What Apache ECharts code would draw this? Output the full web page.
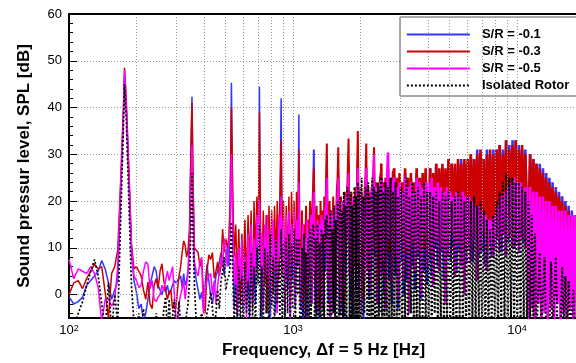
<!DOCTYPE html>
<html><head><meta charset="utf-8">
<script src="https://cdn.jsdelivr.net/npm/echarts@6/dist/echarts.min.js"></script>
<style>html,body{margin:0;padding:0;background:#fff}#c{width:576px;height:363px}</style>
</head><body><div id="c"></div>
<script>
// ---- frequency grid (Hz) ----
const freqA=[100,105,110,115,120,125,130,135,140,145,
150,155,160,165,170,175,177,180,185,190,
195,200,205,210,215,220,225,230,235,240,
245,250,255,260,265,270,275,280,285,290,
295,300];
const freqB=[305,310,315,320,325,330,335,340,345,350,
354,358,363,370,377,384,391,398,405,413,
421,429,437,445,453,461,469,477,485,493,
501,509,517,524,531,538,546,555,564,573,
582,591,600,610,620,630,640,650,660,670,
680,690,700,708,716,726,737,748,759,770,
781,792,803,815,827,839,851,863,874,885,
895,907,920,933,946,959,972,985,998,1011,
1024,1037,1050,1062,1072];
const freqC=[1084,1096,1108,1120,1132,1144,1156,1168,1180,1192,
1204,1216,1228,1239,1250,1262,1275,1288,1301,1314,
1327,1340,1353,1366,1379,1392,1404,1416,1428,1442,
1456,1470,1484,1498,1512,1526,1540,1554,1568,1581,
1593,1606,1622,1638,1654,1670,1686,1702,1718,1734,
1750,1770,1788,1806,1824,1842,1860,1878,1896,1914,
1932,1947,1965,1985,2005,2025,2045,2065,2085,2105,
2124,2145,2168,2191,2214,2237,2260,2282,2301,2324,
2348,2372,2396,2420,2444,2466,2478,2500,2530,2560,
2590,2625,2655,2690,2725,2760,2795,2832,2870,2910,
2950,2990,3030,3075,3120,3165,3210,3260,3310,3360,
3410,3460,3510,3565,3620,3675,3730,3790,3850,3910,
3970,4030,4095,4160,4225,4290,4360,4430,4500,4570,
4645,4720,4795,4870,4950,5030,5110,5195,5280,5365,
5455,5545,5635,5730,5825,5920,6020,6120,6220,6325,
6430,6535,6645,6755,6870,6985,7100,7220,7340,7460,
7585,7710,7840,7970,8100,8235,8370,8510,8650,8795,
8940,9090,9240,9395,9550,9710,9870,10035,10200,10370,
10540,10715,10895,11075,11260,11445,11635,11830,12025,12225,
12430,12635,12845,13060,13275,13495,13720,13950,14180,14415,
14655,14900,15145,15395,15650,15910,16175,16445,16720,17000,
17280,17570,17860,18160,18460];

// ---- S/R = -0.1 (blue) ----
const blueA=[-0.5,-2,-1.5,-0.5,2,3,4,5,7.3,5.5,
2.5,-1,1,3,21,38,46.5,40,25,9,
3,0.6,-3,-2,-6,-4,-1,2,4,6,
5,2,1,0,1.5,0.5,2,0,1,2,
3,2.5];
const blueB=[2.5,3.5,4,1.5,4.5,2,3,5,12,30,
42.3,22,6,3,1,-1,0.5,-3,2,6.5,
3,0,-2,1,4,5,7,9,7,4,
8,10,6,17,45.3,18,-3,6,-6,8,
1,5,-4,9,3,10,-5,12,2,8,
-2,14,5,44.5,10,-5,9,3,12,-2,
11,-6,13,2,10,-4,13,4,15,42,
6,12,-5,13,1,11,-6,14,3,10,
-3,15,6,38.5,4];
const blueC=[-3,12,-6,10,2,14,-5,11,4,13,
-2,12,16,31,6,-4,13,1,12,-7,
14,3,13,-3,15,5,17,28,8,-2,
15,-6,13,4,16,-3,14,6,17,19,
26,9,-4,16,3,14,-6,17,5,15,
18,28,7,-1,17,-5,15,6,18,1,
20,29,10,-2,18,4,16,-6,17,19,
27,6,18,-1,17,5,19,21,26,8,
19,1,18,-3,20,22,24,5,20,0,
21,8,23,3,21,-2,22,24,4,24,
-3,25,7,23,0,26,3,24,-4,25,
6,23,1,26,8,24,-1,25,5,26,
2,8,27,4,25,10,28,6,26,9,
27,3,26,11,29,7,28,10,27,5,
28,9,29,11,28,7,28,10,30,7,
29,12,31,8,30,9,29,6,31,11,
30,8,31,10,31,12,32,9,31,13,
33,11,32,14,33,10,33,12,32,13,
31,11,31,14,11,30,9,29,12,28,
8,28,10,27,7,26,9,25,6,24,
8,23,5,22,7,21,4,20,6,19,
3,18,5,17,4];

// ---- S/R = -0.3 (red) ----
const redA=[0,2.5,3,1.3,3.5,5,6.5,5.5,6,0.5,
-5,4.5,6,9.5,24,40,48.5,42,27,11,
5.5,6,5,4,1,-1,2.7,-2,-3,2,
3.4,1.3,5,6.6,3,1,-1,0.5,1,-3,
-2,-3];
const redB=[1,4,6,9,11.5,10.5,8,9.5,14,30,
41,24,10,9.5,9,6,7.5,1,-4,5,
8.5,7.5,9,3.5,5,7,4,6,14,9,
12,10,12,20,40,22,8,15,3,14,
-2,13,5,16,1,17,6,18,-3,20,
8,21,12,39,14,4,18,2,17,-4,
19,5,18,0,19,7,20,3,21,33,
10,20,2,19,6,21,-1,22,8,20,
4,22,9,31,12];
const redC=[4,18,-2,15,7,19,0,16,9,20,
3,17,22,27,12,2,19,6,17,-3,
20,8,18,1,21,10,24,32.3,14,4,
20,-1,18,9,21,3,19,11,22,25,
31.5,15,2,21,8,19,-2,22,10,20,
24,33.4,13,5,22,0,20,11,23,6,
26,35,16,4,23,9,21,-1,22,25,
32.3,12,23,5,22,10,24,26,31.5,14,
24,7,23,2,25,26,28,11,24,6,
25,13,27,9,25,4,26,27,10,25,
3,26,12,24,6,27,9,25,2,26,
11,24,7,27,13,25,5,26,10,27,
8,14,27,11,26,16,28,12,27,15,
28,10,27,17,29,13,28,16,28,12,
29,15,28,17,29,14,29,16,30,13,
29,17,30,14,31,15,29,12,30,16,
31,13,30,15,31,17,32,15,30,18,
33,16,31,19,32,15,33,17,31,18,
32,16,30,19,17,30,15,29,16,28,
14,27,15,26,13,25,14,24,12,23,
13,22,12,21,11,20,10,19,9,18,
10,17,9,16,15];

// ---- S/R = -0.5 (magenta) ----
const magA=[7.5,3.4,5.5,5,4.5,6,4.5,1.5,-6,-1,
-1,-2.5,-1,6,23,39,48,41,26,10,
4,3,1.5,2,5,7,6.5,1.3,3,-1,
-1.5,-0.5,0,2,1,3,5,3,4.5,6,
6,-5];
const magB=[-6,-2,0,1.3,3,-1,2,5,10,22,
32,18,7,5,4,7,8,-4,1,3,
4,4.5,0,3,-2,2,5,8,6,12,
9,6,11,14,30,15,2,9,-4,10,
3,12,-3,8,-5,13,2,15,-2,12,
4,17,9,20.5,5,13,-3,15,4,17,
1,14,-2,16,5,12,-4,17,8,21,
4,16,-3,17,3,18,-5,15,6,18,
-2,16,7,24,6];
const magC=[10,-3,15,4,12,-5,16,2,13,8,
17,-2,18,22,5,14,-4,16,1,15,
7,17,-3,16,9,18,19,25,3,17,
8,-5,18,2,17,10,19,-1,20,21,
25,6,18,-3,20,9,17,1,21,11,
22,26,4,20,10,-2,21,6,19,12,
23,27,8,21,-4,22,11,20,3,24,
27,5,22,12,1,23,9,25,30,10,
23,-2,22,13,24,4,25,21,7,23,
-3,24,30.4,12,23,2,24,25,8,23,
-1,24,14,22,3,25,10,23,-4,24,
12,22,5,25,9,24,0,23,13,24,
6,24,9,25,2,23,12,24,5,23,
10,22,-2,23,8,22,13,21,4,22,
11,21,6,22,0,21,10,21,7,20,
12,19,3,19,9,18,14,17,5,16,
11,16,8,17,12,19,9,21,13,22,
8,23,12,24,10,25,11,24,9,24,
12,23,10,23,-6,23,-3,22,-7,22,
-2,21,-6,21,-4,20,-7,20,-3,19,
-6,19,-2,18,-7,18,-4,18,-6,17,
-3,17,-7,17,-5];

// ---- Isolated Rotor (black dotted) ----
const isoA=[-8,-7,-4,-1.5,2,5,7.5,4,-2,-8,
2.5,-8,0,-6,16,36,45,38,20,2,
-6,-8,-4,-8,-3,-8,-8,-6,-8,-8,
-4,-8,-8,-8,-3,-0.5,-8,-1,-8,-8,
-1,-8];
const isoB=[-8,-1.5,-7,-8,-6,-8,-4,-2,3,14,
26,12,2,-6,-8,-8,-4,-6,-8,-4,
-2,0.5,-3,-7,-4,1,-3,3,5,8,
1,3,4,6,15.5,5,-6,2,-8,6,
-7,4,-8,7,-4,3,-8,9,-5,6,
-7,10,2,14.7,-6,6,-7,10,-4,9,
-8,13,-3,8,-8,12,-2,7,-5,14,
-6,11,-8,12,-4,13,-7,11,-3,14,
-8,12,0,12,-5];
const isoC=[-8,10,-6,13,-8,9,-5,12,-8,14,
-7,11,15,14,-7,12,-8,15,-5,11,
-8,14,-6,13,-8,16,12,17,-8,15,
-6,18,-8,14,-4,19,-8,16,-6,20,
17,-8,21,-5,18,-8,22,-6,19,-8,
23,20,-7,22,-8,19,-5,23,-8,21,
-6,24,-8,22,-6,25,-8,21,-4,23,
22,-8,24,-6,21,-8,25,-5,23,-8,
22,-7,24,-8,23,-4,25,-8,22,-6,
24,-8,23,-5,25,-8,22,-6,24,-8,
21,-5,23,-8,22,-6,25,-8,21,-4,
24,-8,22,-7,23,-8,21,-5,24,-8,
22,-6,22,-8,21,-4,22,-8,20,-6,
22,-8,21,-5,22,-8,20,-7,21,-8,
22,-5,21,-8,20,-6,21,-8,20,-6,
21,-8,19,-5,20,-8,18,-7,16,-8,
14,-6,17,-8,20,-8,22,-6,24,-7,
26,-8,25,-5,25,-8,24,-6,24,-8,
23,-7,22,-8,20,-8,17,-6,13,-8,
-8,9,-8,-8,8,-8,-8,-8,7,-8,
-8,8,-8,-8,-8,6,-8,4,-8,3,
-8,-8,1,-8,-8];

// ---- axis ticks / labels ----
const xTickValues=[100,1000,10000];
const xTickExps=['2','3','4'];
const xGridFreqs=[200,300,400,500,600,700,800,900,1000,2000,3000,4000,5000,6000,7000,8000,9000,10000];
const seriesNames=['S/R = -0.1','S/R = -0.3','S/R = -0.5','Isolated Rotor'];

const freq=freqA.concat(freqB,freqC);
// the spectrum gets denser with frequency: heavier strokes in the denser parts
const CUT1=freqA.length+freqB.length-1;                 // 1072 Hz
const CUT2=freqA.length+freqB.length+freqC.indexOf(2478); // 2478 Hz
function pairs(vals,from,to){const n=Math.min(freq.length,vals.length,to);const o=[];for(let i=from;i<n;i++)o.push([freq[i],vals[i]]);return o;}

const FONT='Liberation Sans, Arial, sans-serif';
const chart=echarts.init(document.getElementById('c'),null,{renderer:'canvas',width:576,height:363});
const XMIN=100, XMAX=18720;
function lineSeries(name,vals,color,width,type,from,to){
  return {name:name,type:'line',data:pairs(vals,from,to),symbol:'none',showSymbol:false,clip:true,
    lineStyle:{color:color,width:width,type:type||'solid',join:'bevel'},itemStyle:{color:color},
    emphasis:{disabled:true},animation:false,z:3};
}
function parts(name,vals,color,w,type){
  return [lineSeries(name,vals,color,w[0],type,0,CUT1+1),
          lineSeries(name,vals,color,w[1],type,CUT1,CUT2+1),
          lineSeries(name,vals,color,w[2],type,CUT2,1e9)];
}
chart.setOption({
  animation:false,
  textStyle:{fontFamily:FONT},
  grid:{left:69,right:-2,top:14,bottom:45,containLabel:false,outerBoundsMode:'none'},
  legend:{data:seriesNames,orient:'vertical',left:400,top:17,itemWidth:63,itemHeight:13,itemGap:4,
    padding:[11,40,4,6],backgroundColor:'#fff',borderColor:'#555',borderWidth:1,selectedMode:false,
    itemStyle:{opacity:0,borderWidth:0},lineStyle:{width:1.8},
    textStyle:{fontSize:13,fontWeight:'bold',color:'#000',fontFamily:FONT,padding:[0,0,0,7]}},
  xAxis:[{type:'log',logBase:10,min:XMIN,max:XMAX,
    axisLine:{show:true,onZero:false,lineStyle:{color:'#000',width:2}},
    axisTick:{show:true,inside:true,length:5,lineStyle:{color:'#000'}},
    splitLine:{show:false},
    axisLabel:{color:'#000',fontSize:13,margin:6,showMaxLabel:false,
      formatter:function(v){const e=Math.round(Math.log10(v));const i=xTickValues.indexOf(Math.pow(10,e));
        if(i<0||Math.abs(Math.log10(v)-e)>1e-6)return '';return '10{s|'+xTickExps[i]+'}';},
      rich:{s:{fontSize:9,verticalAlign:'top',color:'#000',fontFamily:FONT}}},
    name:'Frequency, \u0394f = 5 Hz [Hz]',nameLocation:'middle',nameGap:24,
    nameTextStyle:{fontSize:17,fontWeight:'bold',color:'#000',fontFamily:FONT}},
   {type:'log',logBase:10,min:XMIN,max:XMAX,position:'top',z:5,
    axisLine:{show:true,onZero:false,lineStyle:{color:'#000',width:2}},axisTick:{show:false},axisLabel:{show:false},splitLine:{show:false}}],
  yAxis:{type:'value',min:-5,max:60,splitNumber:6,
    axisLine:{show:true,onZero:false,lineStyle:{color:'#000',width:2}},
    axisTick:{show:true,inside:true,length:8,lineStyle:{color:'#000'}},
    minorTick:{show:true,splitNumber:5,length:4,lineStyle:{color:'#000'}},
    splitLine:{show:true,lineStyle:{type:[1,2],color:'#9a9a9a',width:1}},
    axisLabel:{color:'#000',fontSize:13,margin:7,formatter:function(v){return v<0?'':String(v);}},
    name:'Sound pressur level, SPL [dB]',nameLocation:'middle',nameGap:36,
    nameTextStyle:{fontSize:17,fontWeight:'bold',color:'#000',fontFamily:FONT}},
  series:[
    {name:'gridlines',type:'line',data:[],z:1,silent:true,animation:false,
     markLine:{silent:true,symbol:['none','none'],animation:false,label:{show:false},
       lineStyle:{type:[1,2],color:'#9a9a9a',width:1},
       data:xGridFreqs.map(function(f){return {xAxis:f};})}}
  ].concat(
    parts(seriesNames[0],blueA.concat(blueB,blueC),'#3535ff',[1.5,2.0,2.6]),
    parts(seriesNames[1],redA.concat(redB,redC),'#cc0000',[1.5,2.0,2.6]),
    parts(seriesNames[2],magA.concat(magB,magC),'#ff00ff',[1.5,2.0,2.6]),
    parts(seriesNames[3],isoA.concat(isoB,isoC),'#000000',[1.7,1.9,2.1],[2,2])
  )
});
</script>
</body></html>
